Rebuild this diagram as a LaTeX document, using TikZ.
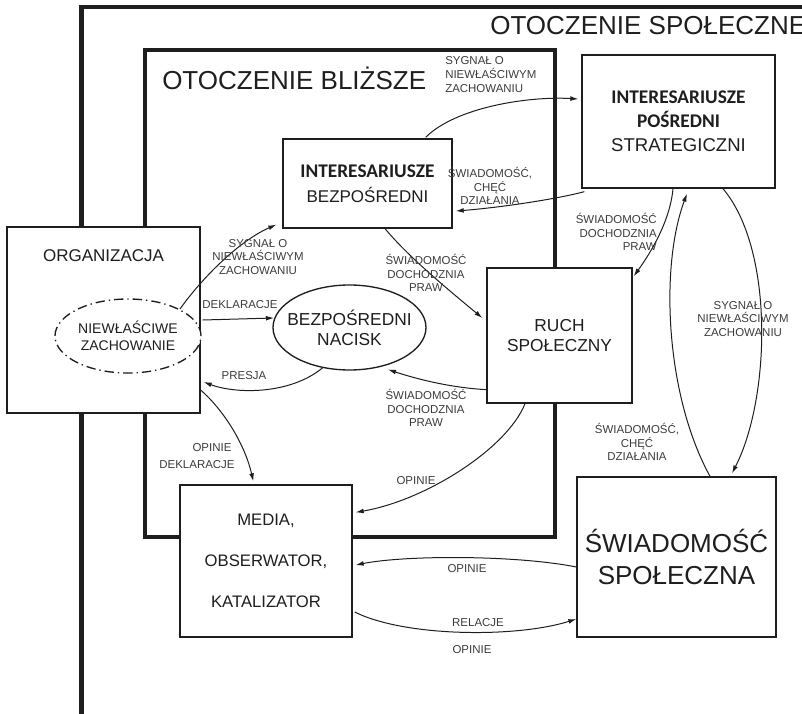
\documentclass[tikz,border=0pt]{standalone}
\usepackage{fontspec}
\setmainfont{Liberation Sans}
\newfontfamily\carlito{Carlito}
\usetikzlibrary{calc,arrows.meta,shapes.geometric}
\definecolor{ink}{HTML}{1E1E1E}
\definecolor{lblink}{HTML}{3C3C3C}
\begin{document}
\begin{tikzpicture}[x=0.75pt,y=-0.75pt,
  box/.style={draw=ink, line width=1pt, fill=white, inner sep=0pt, align=center, text=ink},
  ell/.style={draw=ink, line width=1pt, fill=white, ellipse, inner sep=0pt},
  lbl/.style={font=\fontsize{8.6}{10.3}\selectfont, text=lblink, align=center, inner sep=0pt},
  conn/.style={draw=ink, line width=0.75pt, -{Latex[length=6pt,width=3.6pt]}},
  frame/.style={draw=ink}
]
\useasboundingbox (0,0) rectangle (802,713);
\clip (0,0) rectangle (802,713);
% frames
\draw[frame, line width=3.2pt] (81.5,730) -- (81.5,7) -- (820,7);
\draw[frame, line width=2.5pt] (145,50) rectangle (555,537);
\node[anchor=base west, inner sep=0pt, text=ink, font=\fontsize{19.5}{22}\selectfont] (tsp) at (490,35) {OTOCZENIE SPOŁECZNE};
\node[anchor=base west, inner sep=0pt, text=ink, font=\fontsize{19.5}{22}\selectfont] (tbl) at (162,90) {OTOCZENIE BLIŻSZE};
% nodes
\node[box, minimum width={193*0.75pt}, minimum height={186*0.75pt}] (org) at (103.5,320) {};
\node[text=ink, inner sep=0pt, font=\fontsize{12.75}{15}\selectfont] (orgt) at (103.5,256) {ORGANIZACJA};
\node[ell, dash pattern=on 7pt off 3pt on 1pt off 3pt, minimum width={146*0.75pt}, minimum height={74*0.75pt},
  label={[align=center, text=ink, font=\fontsize{10.5}{12.75}\selectfont]center:NIEWŁAŚCIWE\\ZACHOWANIE}] (niew) at (128,336) {};
\node[box, minimum width={169*0.75pt}, minimum height={89*0.75pt}, font=\fontsize{12.75}{18.75}\selectfont] (ib) at (367.5,183.5)
  {{\carlito\bfseries\fontsize{14.5}{18.75}\selectfont INTERESARIUSZE}\\BEZPOŚREDNI};
\node[box, minimum width={193*0.75pt}, minimum height={133*0.75pt}, font=\fontsize{13.9}{18}\selectfont] (ip) at (678.5,121.5)
  {{\carlito\bfseries\fontsize{14.5}{18}\selectfont INTERESARIUSZE}\\{\carlito\bfseries\fontsize{14.5}{18}\selectfont POŚREDNI}\\STRATEGICZNI};
\node[ell, minimum width={153*0.75pt}, minimum height={85*0.75pt},
  label={[align=center, text=ink, font=\fontsize{13}{15}\selectfont]center:BEZPOŚREDNI\\NACISK}] (nacisk) at (349.5,327.5) {};
\node[box, minimum width={145*0.75pt}, minimum height={135*0.75pt}, font=\fontsize{13}{15}\selectfont] (ruch) at (559.5,335.5) {RUCH\\SPOŁECZNY};
\node[box, minimum width={172*0.75pt}, minimum height={152*0.75pt}, font=\fontsize{12.5}{31}\selectfont] (media) at (266,561) {MEDIA,\\OBSERWATOR,\\KATALIZATOR};
\node[box, minimum width={199*0.75pt}, minimum height={160*0.75pt}, font=\fontsize{19.5}{24}\selectfont] (swiad) at (676.5,557) {ŚWIADOMOŚĆ\\SPOŁECZNA};
% connectors
\draw[conn] ($(niew.center)+(52,-27)$) .. controls ($(niew.center)+(74,-58)$) and ($(ib.south west)+(-43,12)$) .. ($(ib.south west)+(-6,-4)$);
\draw[conn] ($(org.east)+(2,0)$) -- ($(nacisk.center)+(-75.5,-9.5)$);
\draw[conn] ($(nacisk.center)+(-26.5,40)$) .. controls ($(nacisk.center)+(-59.5,67.5)$) and ($(org.east)+(35,74)$) .. ($(org.east)+(3,62)$);
\draw[conn] ($(org.east)+(0,70)$) .. controls ($(org.east)+(25,92)$) and ($(media.north west)+(66,-38)$) .. ($(media.north west)+(74,-3)$);
\draw[conn] ($(ib.north east)+(-27,-1)$) .. controls ($(ib.north east)+(3,-31)$) and ($(ip.west)+(-53,-25.5)$) .. ($(ip.west)+(-3,-22.5)$);
\draw[conn] ($(ip.south west)+(3,3)$) .. controls ($(ip.south west)+(-27,11)$) and ($(ib.east)+(43,24.5)$) .. ($(ib.east)+(3,27.5)$);
\draw[conn] ($(ib.south)+(17.5,0)$) .. controls ($(ib.south)+(42.5,30)$) and ($(ruch.west)+(-34,-42.5)$) .. ($(ruch.west)+(-4,-17.5)$);
\draw[conn] ($(ruch.south west)+(0,-14)$) .. controls ($(ruch.south west)+(-35,-16)$) and ($(nacisk.center)+(68.5,52)$) .. ($(nacisk.center)+(38.5,42)$);
\draw[conn] ($(ruch.south)+(-34.5,0)$) .. controls ($(ruch.south)+(-52.5,45)$) and ($(media.north east)+(73,16)$) .. ($(media.north east)+(3,28)$);
\draw[conn] ($(ip.south)+(-5.5,0)$) .. controls ($(ip.south)+(-8.5,32)$) and ($(ruch.north east)+(19,-16)$) .. ($(ruch.north east)+(1,9)$);
\draw[conn] ($(swiad.north)+(33.5,0)$) .. controls ($(swiad.north)+(-11.5,-82)$) and ($(ip.south)+(-18.5,77)$) .. ($(ip.south)+(8.5,5)$);
\draw[conn] ($(ip.south)+(44.5,0)$) .. controls ($(ip.south)+(96.5,62)$) and ($(swiad.north)+(93.5,-77)$) .. ($(swiad.north)+(55.5,-3)$);
\draw[conn] ($(swiad.west)+(0,10)$) .. controls ($(swiad.west)+(-60,-2)$) and ($(media.east)+(53,-6)$) .. ($(media.east)+(3,4)$);
\draw[conn] ($(media.east)+(2,51)$) .. controls ($(media.east)+(52,76)$) and ($(swiad.west)+(-60,81)$) .. ($(swiad.west)+(0,62)$);
% labels
\node[lbl] (l1) at (258,257) {SYGNAŁ O\\NIEWŁAŚCIWYM\\ZACHOWANIU};
\node[lbl] (l2) at (240,305) {DEKLARACJE};
\node[lbl] (l3) at (244,376) {PRESJA};
\node[lbl] (l4a) at (212,448) {OPINIE};
\node[lbl] (l4b) at (197,465) {DEKLARACJE};
\node[lbl, anchor=west, align=left] (l5) at (445,74.5) {SYGNAŁ O\\NIEWŁAŚCIWYM\\ZACHOWANIU};
\node[lbl] (l6) at (490,186) {ŚWIADOMOŚĆ,\\CHĘĆ\\DZIAŁANIA};
\node[lbl] (l7) at (426,273) {ŚWIADOMOŚĆ\\DOCHODZNIA\\PRAW};
\node[lbl] (l8) at (426,408) {ŚWIADOMOŚĆ\\DOCHODZNIA\\PRAW};
\node[lbl] (l9) at (416,481) {OPINIE};
\node[lbl, anchor=east, align=right] (l10) at (657,232) {ŚWIADOMOŚĆ\\DOCHODZNIA\\PRAW};
\node[lbl] (l11) at (637,442) {ŚWIADOMOŚĆ,\\CHĘĆ\\DZIAŁANIA};
\node[lbl] (l12) at (743,319) {SYGNAŁ O\\NIEWŁAŚCIWYM\\ZACHOWANIU};
\node[lbl] (l13) at (467,569) {OPINIE};
\node[lbl] (l14a) at (478,623) {RELACJE};
\node[lbl] (l14b) at (472,650) {OPINIE};
\end{tikzpicture}
\end{document}
